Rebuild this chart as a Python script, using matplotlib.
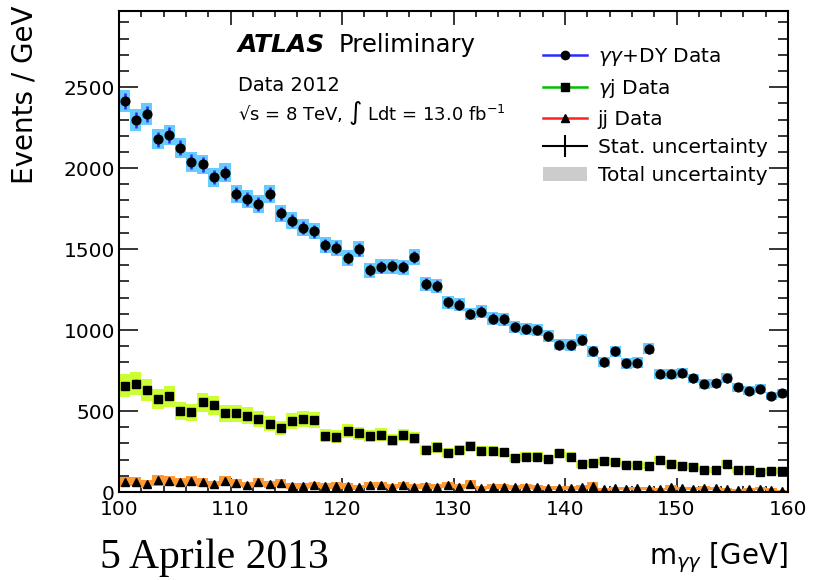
import numpy as np
import matplotlib
matplotlib.use("Agg")
import matplotlib.pyplot as plt
from matplotlib.lines import Line2D
from matplotlib.patches import Patch

plt.rcParams['font.family'] = ['DejaVu Sans']
plt.rcParams['mathtext.fontset'] = 'dejavusans'

# Diphoton invariant mass binning: 1 GeV bins from 100 to 160 GeV
bin_edges = np.arange(100, 161, 1)
bin_centers = 0.5 * (bin_edges[:-1] + bin_edges[1:])

# Events / GeV per bin
gg_dy = [2415, 2296, 2333, 2179, 2204, 2125, 2039, 2023, 1943, 1971,
         1840, 1811, 1778, 1840, 1720, 1675, 1632, 1611, 1523, 1508,
         1444, 1498, 1370, 1391, 1395, 1389, 1451, 1286, 1272, 1171,
         1157, 1099, 1113, 1070, 1066, 1020, 1008, 1000, 963, 909,
         908, 937, 869, 803, 868, 794, 799, 884, 730, 730,
         736, 701, 666, 671, 702, 646, 625, 638, 593, 609]
gam_jet = [656, 669, 630, 576, 591, 500, 492, 554, 537, 486,
           486, 471, 452, 422, 393, 440, 449, 444, 348, 341,
           378, 362, 346, 354, 321, 352, 333, 259, 276, 243,
           257, 284, 253, 255, 245, 212, 218, 218, 204, 238,
           219, 171, 177, 193, 187, 167, 165, 162, 198, 173,
           162, 156, 136, 136, 173, 134, 134, 123, 130, 130]
jet_jet = [62, 64, 49, 72, 67, 60, 69, 59, 47, 67,
           53, 43, 60, 47, 53, 39, 39, 43, 39, 40,
           39, 29, 43, 43, 33, 43, 33, 37, 33, 43,
           33, 49, 23, 33, 33, 29, 33, 29, 23, 23,
           25, 28, 40, 18, 22, 20, 22, 20, 18, 28,
           22, 20, 25, 22, 18, 10, 18, 20, 15, 8]

# Relative systematic uncertainty of each component
syst_frac = {"gg": 0.02, "gj": 0.10, "jj": 0.45}

series = [
    ("gg", gg_dy, "o", 6.3, "#66ccff", "#2b2bff"),
    ("gj", gam_jet, "s", 5.6, "#ccff33", "#00c000"),
    ("jj", jet_jet, "^", 5.8, "#ff9933", "#ff2020"),
]

fig = plt.figure(figsize=(8.14, 5.80), dpi=100)
ax = fig.add_axes([119 / 814, 1 - 492 / 580, 669 / 814, 481 / 580])

for key, vals, mk, ms, band_col, stat_col in series:
    y = np.asarray(vals, dtype=float)
    stat = np.sqrt(y)
    total = np.sqrt(stat ** 2 + (syst_frac[key] * y) ** 2)
    ax.bar(bin_centers, 2 * total, bottom=y - total, width=1.0,
           color=band_col, edgecolor="none", zorder=2)
    ax.errorbar(bin_centers, y, yerr=stat, fmt="none", ecolor=stat_col,
                elinewidth=1.8, capsize=0, zorder=3)
    ax.plot(bin_centers, y, ls="none", marker=mk, ms=ms, color="black",
            zorder=4)

ax.set_xlim(100, 160)
ax.set_ylim(0, 2970)

ax.set_xticks(np.arange(100, 161, 10))
ax.set_xticks(np.arange(100, 161, 2), minor=True)
ax.set_yticks(np.arange(0, 2501, 500))
ax.set_yticks(np.arange(0, 2901, 100), minor=True)

ax.tick_params(axis="both", which="both", direction="in", top=True,
               right=True, width=1.1, colors="black", labelsize=14.5)
ax.tick_params(axis="x", which="major", length=10, pad=5.5)
ax.tick_params(axis="x", which="minor", length=4.3)
ax.tick_params(axis="y", which="major", length=14, pad=3)
ax.tick_params(axis="y", which="minor", length=7)
for sp in ax.spines.values():
    sp.set_linewidth(1.5)

ax.set_ylabel("Events / GeV", fontsize=20, loc="top")
ax.yaxis.set_label_coords(-0.120, 1.012)
ax.set_xlabel(r"m$_{\gamma\gamma}$ [GeV]", fontsize=20, loc="right")
ax.xaxis.set_label_coords(1.0, -0.10)

# Experiment label
ax.text(0.178, 0.915, "ATLAS", transform=ax.transAxes, fontsize=18,
        fontweight="bold", fontstyle="italic", va="baseline", ha="left")
ax.text(0.328, 0.915, "Preliminary", transform=ax.transAxes, fontsize=17.5,
        va="baseline", ha="left")
ax.text(0.178, 0.834, "Data 2012", transform=ax.transAxes, fontsize=14,
        va="baseline", ha="left")
ax.text(0.178, 0.773, "\u221as = 8 TeV, \u222b Ldt = 13.0 fb$^{-1}$",
        transform=ax.transAxes, fontsize=13, va="baseline", ha="left")

handles = [
    Line2D([], [], color="#2b2bff", lw=1.8, marker="o", ms=6,
           markerfacecolor="black", markeredgecolor="black"),
    Line2D([], [], color="#00c000", lw=1.8, marker="s", ms=5.5,
           markerfacecolor="black", markeredgecolor="black"),
    Line2D([], [], color="#ff2020", lw=1.8, marker="^", ms=5.5,
           markerfacecolor="black", markeredgecolor="black"),
    Line2D([], [], color="black", lw=1.5, marker="|", ms=16,
           markeredgewidth=1.5),
    Patch(facecolor="#cccccc", edgecolor="none"),
]
labels = [r"$\gamma\gamma$+DY Data", r"$\gamma$j Data", "jj Data",
          "Stat. uncertainty", "Total uncertainty"]
ax.legend(handles, labels, loc="upper left", bbox_to_anchor=(0.634, 0.928),
          frameon=False, fontsize=14.5, handlelength=2.2,
          handletextpad=0.5, labelspacing=0.47, borderpad=0,
          borderaxespad=0)

fig.text(100 / 814, 0.02, "5 Aprile 2013", family="Liberation Serif",
         fontsize=30, va="baseline", ha="left")

fig.savefig("out.png", dpi=100)
